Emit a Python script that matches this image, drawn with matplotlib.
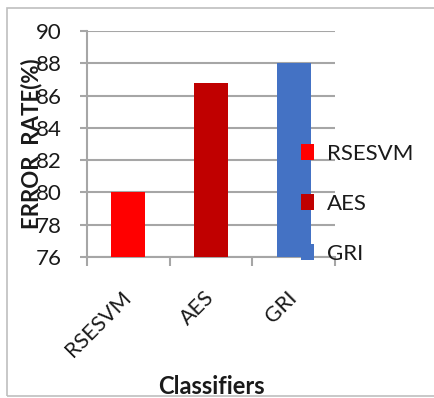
import matplotlib
matplotlib.use("Agg")
import matplotlib.pyplot as plt
from matplotlib.patches import Patch, Rectangle
from matplotlib.transforms import ScaledTranslation

classifiers = ["RSESVM", "AES", "GRI"]
error_rate = [80.0, 86.8, 88.0]
colors = ["#FF0000", "#C00000", "#4472C4"]
y_ticks = [76, 78, 80, 82, 84, 86, 88, 90]

plt.rcParams["font.family"] = ["Lato", "DejaVu Sans"]
grid_color = "#A6A6A6"
text_color = "#1a1a1a"

fig = plt.figure(figsize=(4.34, 3.98), dpi=100)
fig.patches.append(Rectangle((7 / 434, 2 / 398), 1.0, 388 / 398, transform=fig.transFigure,
                             fill=False, edgecolor="#BFBFBF", linewidth=1.2))

ax = fig.add_axes([87 / 434, 1 - 257 / 398, 248 / 434, 226 / 398])
x = list(range(len(classifiers)))
ax.bar(x, [v - 76 for v in error_rate], bottom=76, width=0.41, color=colors, zorder=3)

ax.set_xlim(-0.5, 2.5)
ax.set_ylim(76, 90)
ax.set_yticks(y_ticks)
ax.yaxis.grid(True, color=grid_color, linewidth=1.5, zorder=0)
ax.set_axisbelow(True)
ax.tick_params(axis="y", direction="out", length=5, width=1.5, color=grid_color,
               labelsize=16, labelcolor=text_color, pad=13)

ax.set_xticks(x)
ax.set_xticklabels(classifiers, rotation=45, ha="right", rotation_mode="anchor",
                   fontsize=15.5, color=text_color)
ax.tick_params(axis="x", which="major", length=0, pad=22)
shift = ScaledTranslation(-5 / 72, 0, fig.dpi_scale_trans)
for lbl in ax.get_xticklabels():
    lbl.set_transform(lbl.get_transform() + shift)
ax.set_xticks([-0.5, 0.5, 1.5, 2.5], minor=True)
ax.tick_params(axis="x", which="minor", direction="out", length=6.5, width=1.5,
               color=grid_color)

for side in ("top", "right"):
    ax.spines[side].set_visible(False)
for side in ("left", "bottom"):
    ax.spines[side].set_color(grid_color)
    ax.spines[side].set_linewidth(1.5)

ax.set_ylabel("ERROR  RATE(%)", fontsize=16, fontweight="bold", color=text_color)
ax.yaxis.set_label_coords(-0.178, 0.5)
ax.set_xlabel("Classifiers", fontsize=17, fontweight="bold", color=text_color)
ax.xaxis.set_label_coords(0.5, -0.52)

handles = [Patch(facecolor=c, edgecolor="none") for c in colors]
fig.legend(handles, classifiers, loc="center left", bbox_to_anchor=(301 / 434, 1 - 204 / 398),
           frameon=False, fontsize=16, handlelength=0.6, handleheight=0.75,
           handletextpad=0.55, labelspacing=1.35, borderpad=0, borderaxespad=0,
           labelcolor=text_color)

fig.savefig("out.png", dpi=100)
